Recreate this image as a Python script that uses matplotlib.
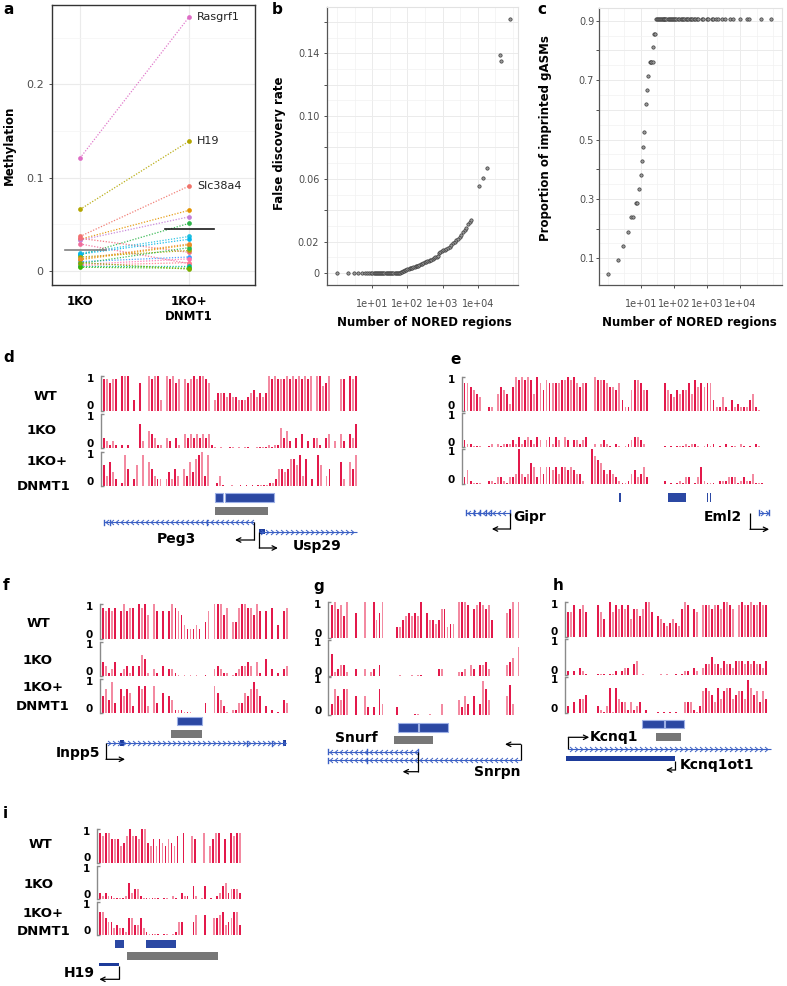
import numpy as np
import matplotlib
matplotlib.use("Agg")
import matplotlib.pyplot as plt
from matplotlib.patches import Rectangle
from matplotlib.path import Path
from matplotlib.ticker import NullFormatter

W, H = 787, 986

# ---------------- a: methylation per imprinted region ----------------
A_GROUPS = ["1KO", "1KO+\nDNMT1"]
A_KO = [0.121, 0.066, 0.037, 0.034, 0.033, 0.017, 0.029, 0.035, 0.019, 0.018,
        0.015, 0.012, 0.010, 0.008, 0.007, 0.006, 0.005, 0.004, 0.013, 0.009]
A_DNMT1 = [0.272, 0.139, 0.091, 0.065, 0.058, 0.051, 0.008, 0.020, 0.037, 0.034,
           0.022, 0.028, 0.015, 0.025, 0.013, 0.009, 0.005, 0.003, 0.029, 0.002]
A_NAMED = ["Rasgrf1", "H19", "Slc38a4"]
A_MEAN = [0.023, 0.045]
A_COLORS = ["#DE6CC5", "#B3A600", "#F0736A", "#E39400", "#C47FD8", "#2DB54A",
            "#F06C9B", "#F26B7A", "#1FBFE0", "#00B6EB", "#A8A400", "#E8A000",
            "#3D9BFF", "#29B84F", "#FF6EAE", "#FF7A8A", "#00C09A", "#39B600",
            "#EA8A2A", "#7CAE00"]

# ---------------- b: FDR vs number of NORED regions ----------------
B_N = [1, 2, 3, 4, 5, 6, 7, 8, 9, 10, 11, 12, 13, 14, 15, 16, 17, 18, 19, 20,
       22, 24, 26, 28, 30, 32, 34, 37, 40, 43, 46, 50, 54, 58, 62,
       66, 70, 75, 80, 86, 92, 100, 108, 116, 125,
       135, 145, 160, 175, 190, 205, 220, 240, 260, 285,
       310, 340, 370, 400, 440, 480, 520, 570, 620, 680,
       740, 800, 870, 950, 1040, 1150, 1280, 1420, 1580, 1760,
       1960, 2200, 2450, 2750, 3050, 3400, 3800, 4250, 4750, 5300,
       5900, 6500, 11000, 14500, 19000, 44000, 45000, 83000]
B_FDR = [0.0, 0.0, 0.0, 0.0, 0.0, 0.0, 0.0, 0.0, 0.0, 0.0, 0.0, 0.0, 0.0, 0.0, 0.0,
         0.0, 0.0, 0.0, 0.0, 0.0, 0.0, 0.0, 0.0, 0.0, 0.0, 0.0, 0.0, 0.0, 0.0, 0.0,
         0.0, 0.0, 0.0, 0.0, 0.0,
         0.0005, 0.001, 0.0013, 0.0016, 0.0018, 0.002, 0.0023, 0.0026, 0.003, 0.0032,
         0.0035, 0.0038, 0.004, 0.0043, 0.0045, 0.0048, 0.005, 0.0055, 0.006, 0.0065,
         0.007, 0.0073, 0.0076, 0.0078, 0.0082, 0.0086, 0.009, 0.0095, 0.010, 0.0105,
         0.011, 0.013, 0.0135, 0.014, 0.0145, 0.015, 0.0155, 0.016, 0.0168, 0.0178,
         0.019, 0.020, 0.021, 0.022, 0.023, 0.0245, 0.026, 0.0275, 0.029, 0.031,
         0.0325, 0.034, 0.0556, 0.0607, 0.0667, 0.139, 0.135, 0.162]

# ---------------- c: proportion of imprinted gASMs ----------------
C_N = [1, 2, 3, 4, 5, 6, 7, 8, 9, 10, 11, 12, 13, 14, 16, 17, 19, 20, 21, 23, 24, 26, 28,
       30, 32, 34, 36, 38, 40, 43, 46, 49, 52, 56, 60, 65, 70, 75, 80, 86, 93,
       100, 110, 120, 130, 145, 160, 175, 190, 210, 230, 250, 275, 300, 330, 360,
       400, 440, 490, 540, 690, 760, 980, 1100, 1380, 1500, 1950, 2200, 2800, 3550,
       5000, 6300, 10000, 16000, 19000, 42000, 85000]
C_PROP = [0.048, 0.095, 0.143, 0.190, 0.238, 0.238, 0.286, 0.286, 0.333, 0.381,
          0.429, 0.476, 0.524, 0.619, 0.667, 0.714, 0.762, 0.762, 0.762, 0.762,
          0.810, 0.857, 0.857,
          0.905, 0.905, 0.905, 0.905, 0.905, 0.905, 0.905, 0.905, 0.905,
          0.905, 0.905, 0.905, 0.905, 0.905, 0.905, 0.905, 0.905, 0.905,
          0.905, 0.905, 0.905, 0.905, 0.905, 0.905, 0.905, 0.905, 0.905,
          0.905, 0.905, 0.905, 0.905, 0.905, 0.905, 0.905, 0.905, 0.905,
          0.905, 0.905, 0.905, 0.905, 0.905, 0.905, 0.905, 0.905, 0.905,
          0.905, 0.905, 0.905, 0.905, 0.905, 0.905, 0.905, 0.905, 0.905]

# ---------------- d-i: methylation tracks ----------------
# one character per CpG slot: ' ' = no CpG, '0' = ~0, '1'..'9' = 0.1..0.9, 'X' = 1
D_WT = ("99899 XXX 3 8  X9XX3 X9X89 989X9XX98 355545443334564545"
        "X9X999X9X9X9X9X XX78X   99 X9X")
D_KO = ("32121 1 1   72 54311 32 31 4343434341"
        "0 0  00 0 00  000010116352 3 4 2 331 34 2 42 437")
D_DN = ("63742 195 26 9 75322 24253 537489X39 "
        " 130  0  0 0 0 00001125545886938 2 96 35   72 759")
E_WT = ("887654  11 576527X9X9X95X869888899X9X8788  X99987768311699866     "
        "86546566859787883114103121113510  ")
E_KO = ("211000  01 101112131232132 23132 32 22123  1 1210 10 0123321      "
        "0 0 00010110 0101 0 1 00 10 0 10  ")
E_DN = ("241000  1102210223X323652535545355454331  X876434321001342352     "
        "1 0 01022 0251000 111222012113000 ")
F_WT = "98989 8X899 X9X7 X8 8 8X987433343 58 XXX79 559XX997X8 8 9 4 89"
F_KO = "43124 12313 3651 21 3 2210 0 0 0  0  23211 0123343 41 5 2 1 23"
F_DN = "57493 75762 8782 83 6 54111000    3  86420 1133657975 2 1 0 43"
G_WT = "9X896X  7  X  X57X    33567676X 7554588344 XXX9 89X9895    78X X"
G_KO = "612331  2  2 12 3      0   0 00     22     112 32 3342     345 8"
G_DN = "375477  5  52 2 73    2     00   0   3     4253 5 3974     583  "
H_WT = "779 897   975 X79898958868XX7 654345438X9 87 9998998XX98 9X99X99X99"
H_KO = "1 1 210   000 001 122 34 0     0 0  0 011 21 2335332433244434343324"
H_DN = "2 3 445   210270743313123 1   0 0 0 0  3331026765374677456649756364"
I_WT = "9899777568X887XX65757657658 9  87  9 5799 7 9899"
I_KO = "212110000152331000000 00 10 211 41 04 0 124523332"
I_DN = "775442322155335210000 00 0144   46  6  5567345773"

# ---------------- d-i: annotation (coordinates in % of track span) ----------------
D_BLUE = [(44.0, 47.1), (48.0, 67.3)]
D_GRAY = [(44.0, 64.9)]
D_PEG3 = (0.5, 59.5)
D_PEG3_TICKS = [0.6, 3.0, 41.0]
D_USP29 = (61.4, 99.6)
D_USP29_EXON = [(61.4, 63.7)]

E_BLUE = [(51.3, 52.0), (67.4, 73.4), (80.2, 80.8), (81.2, 81.8)]
E_GIPR = (1.0, 15.5)
E_GIPR_TICKS = [1.0, 3.6, 5.6, 7.6, 9.1, 15.5]
E_EML2 = (97.5, 100.8)
E_EML2_TICKS = [97.5, 100.8]
E_EML2_TSS = 94.5

F_BLUE = [(40.5, 53.9)]
F_GRAY = [(37.1, 53.9)]
F_INPP5 = (2.3, 98.8)
F_INPP5_EXON = [(9.8, 11.9), (97.3, 98.8)]
F_INPP5_TICKS = [77.7, 91.1]

G_BLUE = [(35.7, 46.2), (46.5, 62.1)]
G_GRAY = [(33.6, 54.2)]
G_SNURF = (-1.3, 46.3)
G_SNRPN = (-1.3, 100.4)
G_TICKS = [-1.3, 19.0]

H_BLUE = [(37.6, 48.4), (48.7, 58.4)]
H_GRAY = [(44.6, 56.9)]
H_KCNQ1 = (0.8, 101.6)
H_KCNQ1OT1 = (-0.3, 53.9)

I_BLUE = [(11.7, 18.2), (33.0, 54.0)]
I_GRAY = [(20.2, 83.7)]
I_H19 = (0.7, 14.7)

RED, PINK = "#E3194B", "#F38AA1"
BLUE, BLUE_EDGE, NAVY = "#2B48A3", "#9DB0E6", "#1D3B9A"
GRAY = "#777777"
GENE = "#3A5FC4"
TXT = "#4d4d4d"

CHEV_L = Path([(0.35, 0.6), (-0.35, 0.0), (0.35, -0.6)], [Path.MOVETO, Path.LINETO, Path.LINETO])
CHEV_R = Path([(-0.35, 0.6), (0.35, 0.0), (-0.35, -0.6)], [Path.MOVETO, Path.LINETO, Path.LINETO])

fig = plt.figure(figsize=(W / 100, H / 100), dpi=100)


def px_axes(l, t, r, b):
    return fig.add_axes([l / W, 1 - b / H, (r - l) / W, (b - t) / H])


def ftext(x, y, s, **kw):
    fig.text(x / W, 1 - y / H, s, **kw)


def decode(s):
    out = []
    for ch in s:
        if ch == " ":
            out.append(np.nan)
        elif ch == "X":
            out.append(1.0)
        else:
            out.append(max(int(ch) / 10, 0.035))
    return np.array(out)


# ---------------- panel a ----------------
ax = px_axes(52, 5, 255, 285)
for ko, dn, col in zip(A_KO, A_DNMT1, A_COLORS):
    ax.plot([1, 2], [ko, dn], color=col, lw=0.9, ls=(0, (1, 1.3)), alpha=0.9, zorder=2)
    ax.plot([1, 2], [ko, dn], ls="none", marker="o", ms=3.4, color=col, mec="none", zorder=3)
ax.plot([0.86, 1.24], [A_MEAN[0]] * 2, color="#808080", lw=1.2, zorder=4)
ax.plot([1.78, 2.23], [A_MEAN[1]] * 2, color="#1a1a1a", lw=1.2, zorder=4)
for name, v in zip(A_NAMED, A_DNMT1):
    ax.text(2.075, v, name, fontsize=8, va="center", color="#222222")
ax.set_xlim(0.743, 2.606)
ax.set_ylim(-0.015, 0.285)
ax.set_yticks([0, 0.1, 0.2])
ax.set_yticklabels(["0", "0.1", "0.2"], fontsize=8, color=TXT)
ax.set_yticks([0.05, 0.15, 0.25], minor=True)
ax.set_xticks([1, 2])
ax.set_xticklabels(A_GROUPS, fontsize=8.5, fontweight="bold", linespacing=1.25)
ax.tick_params(axis="y", which="major", length=2, width=0.6, pad=4, color="#333333")
ax.tick_params(axis="x", length=0, pad=7)
ax.tick_params(which="minor", length=0)
ax.set_axisbelow(True)
ax.grid(which="major", color="#EBEBEB", lw=0.8)
ax.grid(which="minor", axis="y", color="#F4F4F4", lw=0.5)
for sp in ax.spines.values():
    sp.set_color("#333333")
    sp.set_linewidth(1.0)
ftext(9.5, 145, "Methylation", rotation=90, fontsize=8.5, fontweight="bold", ha="center", va="center")


# ---------------- panels b and c ----------------
def style_scatter(ax, xlim, ylim, yt, ylabels, yminor, ypad):
    ax.set_xscale("log")
    ax.set_xlim(*xlim)
    ax.set_ylim(*ylim)
    ax.set_xticks([1e1, 1e2, 1e3, 1e4])
    ax.set_xticklabels(["1e+01", "1e+02", "1e+03", "1e+04"], fontsize=7, color=TXT)
    ax.set_xticks([10 ** 0, 10 ** 0.5, 10 ** 1.5, 10 ** 2.5, 10 ** 3.5, 10 ** 4.5, 10 ** 5], minor=True)
    ax.xaxis.set_minor_formatter(NullFormatter())
    ax.set_yticks(yt)
    ax.set_yticklabels(ylabels, fontsize=7, color=TXT)
    ax.set_yticks(yminor, minor=True)
    ax.tick_params(which="major", length=2, width=0.6, color="#333333")
    ax.tick_params(axis="x", which="major", pad=8)
    ax.tick_params(axis="y", which="major", pad=ypad)
    ax.tick_params(which="minor", length=0)
    ax.set_axisbelow(True)
    ax.grid(which="major", color="#EBEBEB", lw=0.7)
    ax.grid(which="minor", color="#F2F2F2", lw=0.5)
    for side in ("left", "bottom"):
        ax.spines[side].set_color("#555555")
        ax.spines[side].set_linewidth(0.9)
    for side in ("top", "right"):
        ax.spines[side].set_color("#E2E2E2")
        ax.spines[side].set_linewidth(0.8)


ax = px_axes(327, 7, 518, 285)
ax.plot(B_N, B_FDR, ls="none", marker="o", ms=2.4, mfc="#9a9a9a", mec="#3a3a3a", mew=0.5)
style_scatter(ax, (0.513, 1.41e5), (-0.0076, 0.1695),
              [0, 0.02, 0.04, 0.06, 0.08, 0.10, 0.12, 0.14, 0.16],
              ["0", "0.02", "", "0.06", "", "0.10", "", "0.14", ""],
              [0.01, 0.03, 0.05, 0.07, 0.09, 0.11, 0.13, 0.15], 3.5)
ftext(279, 143, "False discovery rate", rotation=90, fontsize=8.5, fontweight="bold", ha="center", va="center")
ftext(424, 322, "Number of NORED regions", fontsize=8.5, fontweight="bold", ha="center", va="center")

ax = px_axes(599, 8, 782, 285)
ax.plot(C_N, C_PROP, ls="none", marker="o", ms=2.4, mfc="#9a9a9a", mec="#3a3a3a", mew=0.5)
style_scatter(ax, (0.55, 1.86e5), (0.010, 0.943),
              [0.1, 0.2, 0.3, 0.4, 0.5, 0.6, 0.7, 0.8, 0.9],
              ["0.1", "", "0.3", "", "0.5", "", "0.7", "", "0.9"],
              [0.05, 0.15, 0.25, 0.35, 0.45, 0.55, 0.65, 0.75, 0.85], 1.5)
ftext(545, 138, "Proportion of imprinted gASMs", rotation=90, fontsize=8.5, fontweight="bold", ha="center", va="center")
ftext(689, 322, "Number of NORED regions", fontsize=8.5, fontweight="bold", ha="center", va="center")

# ---------------- track panels ----------------
PANELS = {
    "d": dict(xb=100.7, x0=102.7, x1=357.7, tracks=[D_WT, D_KO, D_DN],
              rows=[(375.7, 410.7), (414, 448), (451.7, 486)]),
    "e": dict(xb=461.7, x0=463, x1=766.7, tracks=[E_WT, E_KO, E_DN],
              rows=[(376.7, 410.7), (413, 447), (449, 484)]),
    "f": dict(xb=100, x0=101.7, x1=288.3, tracks=[F_WT, F_KO, F_DN],
              rows=[(604.3, 639.3), (641.7, 676), (679, 713.3)]),
    "g": dict(xb=328.3, x0=330.7, x1=520, tracks=[G_WT, G_KO, G_DN],
              rows=[(601.7, 638.3), (640, 676), (677.3, 715)]),
    "h": dict(xb=565, x0=566.7, x1=767.7, tracks=[H_WT, H_KO, H_DN],
              rows=[(601.7, 636.7), (639, 675), (676.7, 713.3)]),
    "i": dict(xb=97.3, x0=98.3, x1=241.7, tracks=[I_WT, I_KO, I_DN],
              rows=[(829.3, 862.7), (866, 899.3), (901.7, 935)]),
}

TICK_TXT = dict(fontsize=7.5, fontweight="bold", ha="right", va="center",
                xycoords="axes fraction", textcoords="offset points", annotation_clip=False)

for p, g in PANELS.items():
    for (top, bot), s in zip(g["rows"], g["tracks"]):
        ax = px_axes(g["xb"], top, g["x1"], bot)
        ax.patch.set_alpha(0)
        h = decode(s)
        n = len(h)
        slot = (g["x1"] - g["x0"]) / n
        idx = np.arange(n)
        ok = ~np.isnan(h)
        cols = np.where(idx % 2 == 0, RED, PINK)
        ax.bar(idx[ok] + 0.5, h[ok], width=0.62, color=cols[ok], linewidth=0)
        ax.set_xlim(-(g["x0"] - g["xb"]) / slot, n)
        ax.set_ylim(0, 1)
        for side in ("top", "right", "bottom"):
            ax.spines[side].set_visible(False)
        ax.spines["left"].set_color("#8a8a8a")
        ax.spines["left"].set_linewidth(1.0)
        ax.set_xticks([])
        ax.set_yticks([0, 1])
        ax.set_yticklabels([])
        ax.tick_params(axis="y", direction="in", length=2.5, width=1.0, color="#8a8a8a")
        ax.annotate("1", xy=(0, 1), xytext=(-5, -2.2), **TICK_TXT)
        ax.annotate("0", xy=(0, 0), xytext=(-5, 3.2), **TICK_TXT)


def ann_axes(p, top, bottom):
    g = PANELS[p]
    ax = px_axes(g["x0"], top, g["x1"], bottom)
    ax.set_xlim(0, 100)
    ax.set_ylim(bottom, top)
    ax.axis("off")
    return ax, (g["x1"] - g["x0"]) / 100


def boxes(ax, spans, y0, y1, color, edge="none"):
    for s, e in spans:
        ax.add_patch(Rectangle((s, y0), e - s, y1 - y0, fc=color, ec=edge, lw=0.8, clip_on=False))


def gene(ax, span, y, strand, ppu):
    s, e = span
    ax.plot([s, e], [y, y], color=GENE, lw=0.8, clip_on=False, solid_capstyle="butt")
    step = 5.0 / ppu
    xs = np.arange(s + step * 0.6, e - step * 0.3, step)
    ax.plot(xs, np.full(len(xs), y), ls="none", marker=CHEV_L if strand == "-" else CHEV_R,
            ms=3.6, mfc="none", mec=GENE, mew=0.7, clip_on=False)


def ticks(ax, xs, y, h=2.5):
    for x in xs:
        ax.plot([x, x], [y - h, y + h], color=GENE, lw=1.0, clip_on=False)


def tss(ax, x, y0, y1, x_end):
    ax.plot([x, x], [y0, y1], color="k", lw=0.9, clip_on=False, solid_capstyle="butt")
    ax.annotate("", xy=(x_end, y1), xytext=(x, y1),
                arrowprops=dict(arrowstyle="->", color="k", lw=0.9, shrinkA=0, shrinkB=0,
                                mutation_scale=8), annotation_clip=False)


def label(ax, x, y, s, ha="center"):
    ax.text(x, y, s, fontsize=10, fontweight="bold", ha=ha, va="center", clip_on=False)


# d
ax, ppu = ann_axes("d", 486, 555)
boxes(ax, D_BLUE, 493.3, 502.3, BLUE, BLUE_EDGE)
boxes(ax, D_GRAY, 506.7, 515, GRAY)
gene(ax, D_PEG3, 522.3, "-", ppu)
ticks(ax, D_PEG3_TICKS, 522.3)
tss(ax, D_PEG3[1], 522.3, 540, 51.9)
label(ax, 29.0, 539, "Peg3")
gene(ax, D_USP29, 531.7, "+", ppu)
boxes(ax, D_USP29_EXON, 529.2, 534.2, NAVY)
tss(ax, D_USP29[0], 531.7, 548, 68.7)
label(ax, 83.9, 546, "Usp29")

# e
ax, ppu = ann_axes("e", 484, 535)
boxes(ax, E_BLUE, 493, 501.7, BLUE)
gene(ax, E_GIPR, 512.7, "-", ppu)
ticks(ax, E_GIPR_TICKS, 512.7)
tss(ax, E_GIPR[1], 512.7, 529, 9.5)
label(ax, 16.6, 516.7, "Gipr", ha="left")
gene(ax, E_EML2, 512.7, "+", ppu)
ticks(ax, E_EML2_TICKS, 512.7)
tss(ax, E_EML2_TSS, 513, 529.3, E_EML2[1])
label(ax, 91.8, 517, "Eml2", ha="right")

# f
ax, ppu = ann_axes("f", 713.3, 765)
boxes(ax, F_BLUE, 716.7, 725, BLUE, BLUE_EDGE)
boxes(ax, F_GRAY, 730.3, 738.3, GRAY)
gene(ax, F_INPP5, 743.3, "+", ppu)
boxes(ax, F_INPP5_EXON, 740.3, 746.3, NAVY)
ticks(ax, F_INPP5_TICKS, 743.3)
tss(ax, F_INPP5[0], 743.3, 759.3, 12.5)
label(ax, -0.9, 753.3, "Inpp5", ha="right")

# g
ax, ppu = ann_axes("g", 715, 778)
boxes(ax, G_BLUE, 722.7, 731.7, BLUE, BLUE_EDGE)
boxes(ax, G_GRAY, 736, 744.3, GRAY)
gene(ax, G_SNURF, 751.7, "-", ppu)
ticks(ax, G_TICKS + [G_SNURF[1]], 751.7)
gene(ax, G_SNRPN, 760, "-", ppu)
ticks(ax, G_TICKS, 760)
tss(ax, G_SNURF[1], 751.7, 771.7, 38.0)
tss(ax, G_SNRPN[1], 760, 744.3, 92.1)
label(ax, 2.3, 738.3, "Snurf", ha="left")
label(ax, 100.4, 771.7, "Snrpn", ha="right")

# h
ax, ppu = ann_axes("h", 713.3, 775)
boxes(ax, H_BLUE, 720, 728.3, BLUE, BLUE_EDGE)
boxes(ax, H_GRAY, 732.7, 740.7, GRAY)
gene(ax, H_KCNQ1, 749.3, "+", ppu)
boxes(ax, [H_KCNQ1OT1], 756, 761, NAVY)
tss(ax, H_KCNQ1[0], 749.3, 737.3, 11.2)
tss(ax, H_KCNQ1OT1[1], 761, 770, 49.4)
label(ax, 11.6, 736.7, "Kcnq1", ha="left")
label(ax, 56.4, 765, "Kcnq1ot1", ha="left")

# i
ax, ppu = ann_axes("i", 935, 985)
boxes(ax, I_BLUE, 940, 947.7, BLUE)
boxes(ax, I_GRAY, 952.3, 960, GRAY)
boxes(ax, [I_H19], 962.7, 966, NAVY)
tss(ax, I_H19[1], 966, 979.3, I_H19[0])
label(ax, -2.3, 972.7, "H19", ha="right")

# row labels
ROW_TXT = dict(fontsize=9.5, fontweight="bold", ha="center", va="center")
for wt, ko, plus, dn in [((45, 396.7), (42, 430), (46.7, 461.7), (43.3, 486)),
                         ((38.3, 623.3), (37.7, 660.7), (42.7, 687.3), (42.7, 706)),
                         ((40, 845), (39, 885), (43.3, 913.3), (43.3, 931.7))]:
    ftext(*wt, "WT", **ROW_TXT)
    ftext(*ko, "1KO", **ROW_TXT)
    ftext(*plus, "1KO+", **ROW_TXT)
    ftext(*dn, "DNMT1", **ROW_TXT)

# panel letters
for s, x, y in [("a", 3, 10), ("b", 272, 9), ("c", 537, 10), ("d", 3, 358), ("e", 450, 359),
                ("f", 3, 585), ("g", 313, 586), ("h", 553, 585), ("i", 3, 813)]:
    ftext(x, y, s, fontsize=11, fontweight="bold", ha="left", va="center")

fig.savefig("out.png", dpi=100)
